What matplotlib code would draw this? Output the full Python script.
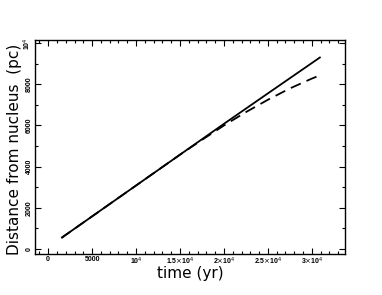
import matplotlib
matplotlib.use("Agg")
import matplotlib.pyplot as plt
from matplotlib.ticker import MultipleLocator, FixedLocator

plt.rcParams['font.family'] = ['DejaVu Sans']

# data
t_solid = [1500, 5000, 10000, 15000, 20000, 25000, 31000]
d_solid = [530, 1580, 3080, 4580, 6080, 7560, 9330]
t_dash = [1500, 5000, 10000, 15000, 17500, 20000, 22500, 25000, 27500, 30000, 31000]
d_dash = [530, 1580, 3080, 4580, 5300, 6000, 6650, 7250, 7800, 8280, 8450]

xticks = [0, 5000, 10000, 15000, 20000, 25000, 30000]
xticklabels = ["0", "5000", r"10$^{4}$", r"1.5$\times$10$^{4}$", r"2$\times$10$^{4}$",
               r"2.5$\times$10$^{4}$", r"3$\times$10$^{4}$"]
yticks = [0, 2000, 4000, 6000, 8000, 10000]
yticklabels = ["0", "2000", "4000", "6000", "8000", r"10$^{4}$"]

fig = plt.figure(figsize=(3.82, 2.95), dpi=100)
ax = fig.add_axes([0.0916, 0.139, 0.811, 0.725])

ax.plot(t_solid, d_solid, color='black', lw=1.3, solid_capstyle='butt')
ax.plot(t_dash, d_dash, color='black', lw=1.3, dashes=(6, 3.5))

ax.set_xlim(-1500, 33750)
ax.set_ylim(-250, 10150)

tickfont = dict(fontsize=5, fontweight='bold', family=['Liberation Sans', 'DejaVu Sans'])
ax.xaxis.set_major_locator(FixedLocator(xticks))
ax.set_xticklabels(xticklabels, **tickfont)
ax.xaxis.set_minor_locator(MultipleLocator(1000))
ax.yaxis.set_major_locator(FixedLocator(yticks))
ax.set_yticklabels(yticklabels, rotation=90, va='center', **tickfont)
ax.yaxis.set_minor_locator(MultipleLocator(1000))

ax.tick_params(which='both', direction='in', top=True, right=True, width=0.8)
ax.tick_params(which='major', length=4.5, pad=1.5)
ax.tick_params(which='minor', length=2.5)
for s in ax.spines.values():
    s.set_linewidth(1.0)

ax.set_xlabel("time (yr)", fontsize=11)
ax.set_ylabel("Distance from nucleus  (pc)", fontsize=11)
ax.xaxis.set_label_coords(0.5, -0.058)
ax.yaxis.set_label_coords(-0.042, 0.49)

fig.savefig("out.png", dpi=100)
